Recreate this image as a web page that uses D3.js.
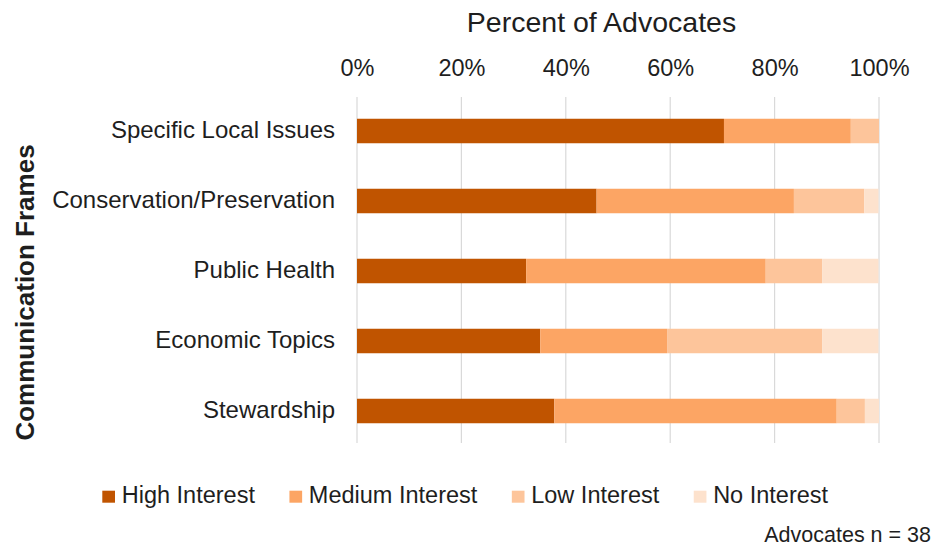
<!DOCTYPE html>
<html>
<head>
<meta charset="utf-8">
<script src="https://cdn.jsdelivr.net/npm/d3@7"></script>
<style>
  html, body { margin: 0; padding: 0; background: #fff; }
  svg { display: block; font-family: "Liberation Sans", Arial, sans-serif; }
</style>
</head>
<body>
<svg id="chart" width="935" height="555"></svg>
<script>
// Interest in each communication frame, percent of advocates
const categories = ["Specific Local Issues", "Conservation/Preservation", "Public Health", "Economic Topics", "Stewardship"];
const highInterest   = [70.3, 45.9, 32.4, 35.1, 37.8];
const mediumInterest = [24.3, 37.8, 45.9, 24.3, 54.1];
const lowInterest    = [5.4, 13.5, 10.8, 29.7, 5.4];
const noInterest     = [0.0, 2.7, 10.8, 10.8, 2.7];
const seriesNames = ["High Interest", "Medium Interest", "Low Interest", "No Interest"];
const tickValues = [0, 20, 40, 60, 80, 100];
const footnote = "Advocates n = 38";

const colors = ["#c05400", "#fca564", "#fdc59b", "#fde2cd"];
const seriesValues = [highInterest, mediumInterest, lowInterest, noInterest];

const rows = categories.map((c, i) => {
  const r = { category: c };
  seriesNames.forEach((s, j) => { r[s] = seriesValues[j][i]; });
  return r;
});

const svg = d3.select("#chart");
const textColor = "#1e1e1e";

const x = d3.scaleLinear().domain([0, 100]).range([357, 879]);
const y = d3.scaleBand().domain(categories).range([96, 446])
  .paddingInner(0.65).paddingOuter(0.325);

// vertical gridlines
svg.append("g")
  .selectAll("line")
  .data(tickValues)
  .join("line")
  .attr("x1", d => x(d)).attr("x2", d => x(d))
  .attr("y1", 97).attr("y2", 443)
  .attr("stroke", "#d9d9d9")
  .attr("stroke-width", 1.2);

// top axis tick labels
const xAxis = d3.axisTop(x).tickValues(tickValues).tickFormat(d => d + "%").tickSize(0).tickPadding(0);
const gx = svg.append("g").attr("transform", "translate(0,76)").call(xAxis);
gx.select(".domain").remove();
gx.selectAll("text")
  .attr("dy", 0)
  .attr("font-size", 23.5)
  .attr("font-family", "'Liberation Sans', Arial, sans-serif")
  .attr("fill", textColor);

// category axis labels
const yAxis = d3.axisLeft(y).tickSize(0).tickPadding(0);
const gy = svg.append("g").attr("transform", "translate(335,0)").call(yAxis);
gy.select(".domain").remove();
gy.selectAll("text")
  .attr("dy", "0.31em")
  .attr("font-size", 24)
  .attr("font-family", "'Liberation Sans', Arial, sans-serif")
  .attr("fill", textColor);

// stacked bars
const stacked = d3.stack().keys(seriesNames)(rows);
svg.append("g")
  .selectAll("g")
  .data(stacked)
  .join("g")
  .attr("fill", (d, i) => colors[i])
  .selectAll("rect")
  .data(d => d)
  .join("rect")
  .attr("x", d => x(d[0]))
  .attr("width", d => Math.max(0, x(d[1]) - x(d[0])))
  .attr("y", d => y(d.data.category))
  .attr("height", y.bandwidth());

// axis titles
svg.append("text")
  .attr("x", 601.5).attr("y", 32)
  .attr("text-anchor", "middle")
  .attr("font-size", 28.5)
  .attr("fill", textColor)
  .text("Percent of Advocates");

svg.append("text")
  .attr("transform", "translate(33.5,292.5) rotate(-90)")
  .attr("text-anchor", "middle")
  .attr("font-size", 26)
  .attr("font-weight", "bold")
  .attr("fill", textColor)
  .text("Communication Frames");

// legend
const legend = svg.append("g");
let lx = 102.3;
seriesNames.forEach((name, i) => {
  legend.append("rect")
    .attr("x", lx).attr("y", 490.7)
    .attr("width", 12.7).attr("height", 12)
    .attr("fill", colors[i]);
  const t = legend.append("text")
    .attr("x", lx + 19.4).attr("y", 503.3)
    .attr("font-size", 23.5)
    .attr("fill", textColor)
    .text(name);
  lx = lx + 19.4 + t.node().getComputedTextLength() + 34.5;
});

// sample size note
svg.append("text")
  .attr("x", 931).attr("y", 542)
  .attr("text-anchor", "end")
  .attr("font-size", 21.5)
  .attr("fill", textColor)
  .text(footnote);
</script>
</body>
</html>
